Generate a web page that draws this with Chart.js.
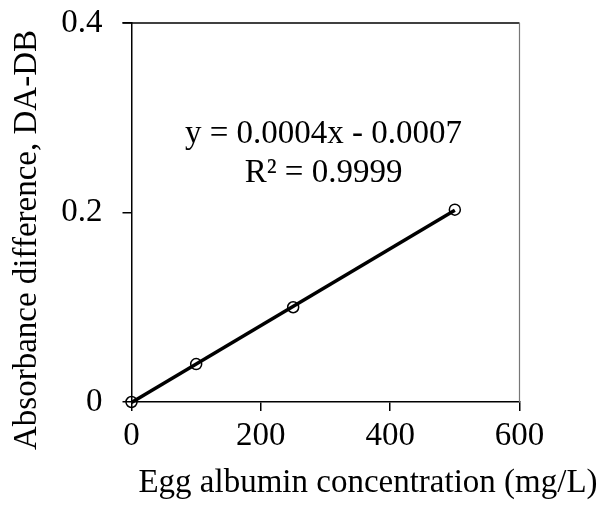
<!DOCTYPE html>
<html>
<head>
<meta charset="utf-8">
<script src="https://cdn.jsdelivr.net/npm/chart.js@4"></script>
<style>
  html, body { margin: 0; padding: 0; background: #fff; }
  #wrap { width: 608px; height: 505px; }
</style>
</head>
<body>
<div id="wrap"><canvas id="chart" width="608" height="505"></canvas></div>
<script>
  // ── DATA ──
  const concX = [0, 100, 250, 500];
  const absY = [0, 0.04, 0.1, 0.203];
  const trendX = [0, 500];
  const trendY = [-0.0006, 0.2025];
  const xTicks = [0, 200, 400, 600];
  const yTicks = [0, 0.2, 0.4];
  const eqLines = ['y = 0.0004x - 0.0007', 'R² = 0.9999'];
  const xTitle = 'Egg albumin concentration (mg/L)';
  const yTitle = 'Absorbance difference, DA-DB';

  const FONT = '"Liberation Serif", "Times New Roman", serif';

  // frame lines, equation text and axis titles
  const extras = {
    id: 'extras',
    afterDraw(chart) {
      const { ctx, chartArea: a, scales } = chart;
      ctx.save();
      ctx.strokeStyle = '#000';
      ctx.lineWidth = 1.5;
      ctx.beginPath();
      ctx.moveTo(a.left - 9, a.top);
      ctx.lineTo(a.right, a.top);
      ctx.stroke();
      ctx.strokeStyle = '#777';
      ctx.lineWidth = 1.2;
      ctx.beginPath();
      ctx.moveTo(a.right, a.top);
      ctx.lineTo(a.right, a.bottom);
      ctx.stroke();

      ctx.fillStyle = '#000';
      ctx.font = '33px ' + FONT;
      ctx.textAlign = 'center';
      ctx.textBaseline = 'alphabetic';
      const cx = scales.x.getPixelForValue(297);
      ctx.fillText(eqLines[0], cx, scales.y.getPixelForValue(0.2735));
      ctx.fillText(eqLines[1], cx, scales.y.getPixelForValue(0.2325));

      ctx.fillText(xTitle, 368, 492);
      ctx.translate(36, 240);
      ctx.rotate(-Math.PI / 2);
      ctx.fillText(yTitle, 0, 0);
      ctx.restore();
    }
  };

  const ctx = document.getElementById('chart').getContext('2d');
  new Chart(ctx, {
    type: 'scatter',
    data: {
      datasets: [
        {
          label: 'trend',
          type: 'line',
          data: trendX.map((x, i) => ({ x, y: trendY[i] })),
          borderColor: '#000',
          borderWidth: 3.5,
          pointRadius: 0,
          fill: false,
          clip: false,
          order: 2
        },
        {
          label: 'data',
          data: concX.map((x, i) => ({ x, y: absY[i] })),
          pointStyle: 'circle',
          pointRadius: 5.5,
          pointBorderWidth: 1.5,
          borderColor: '#000',
          backgroundColor: 'rgba(0,0,0,0)',
          clip: false,
          order: 1
        }
      ]
    },
    options: {
      responsive: false,
      animation: false,
      layout: { padding: { left: 0, top: 23, right: 88.5, bottom: 0 } },
      plugins: { legend: { display: false }, tooltip: { enabled: false } },
      scales: {
        x: {
          type: 'linear',
          min: 0, max: 600,
          afterBuildTicks: s => { s.ticks = xTicks.map(v => ({ value: v })); },
          afterFit: s => { s.height = 103; s.paddingLeft = 0; s.paddingRight = 0; },
          grid: { drawOnChartArea: false, drawTicks: true, tickLength: 9, color: '#000', lineWidth: 1.5 },
          border: { display: true, color: '#000', width: 1.5 },
          ticks: { color: '#000', font: { family: FONT, size: 33 }, padding: 6, maxRotation: 0 }
        },
        y: {
          type: 'linear',
          min: 0, max: 0.4,
          afterBuildTicks: s => { s.ticks = yTicks.map(v => ({ value: v })); },
          afterFit: s => { s.width = 131.5; s.paddingTop = 0; s.paddingBottom = 0; },
          grid: { drawOnChartArea: false, drawTicks: true, tickLength: 9, color: '#000', lineWidth: 1.5 },
          border: { display: true, color: '#000', width: 1.5 },
          ticks: { color: '#000', font: { family: FONT, size: 33 }, padding: 20,
                   callback: v => String(v) }
        }
      }
    },
    plugins: [extras]
  });
</script>
</body>
</html>
